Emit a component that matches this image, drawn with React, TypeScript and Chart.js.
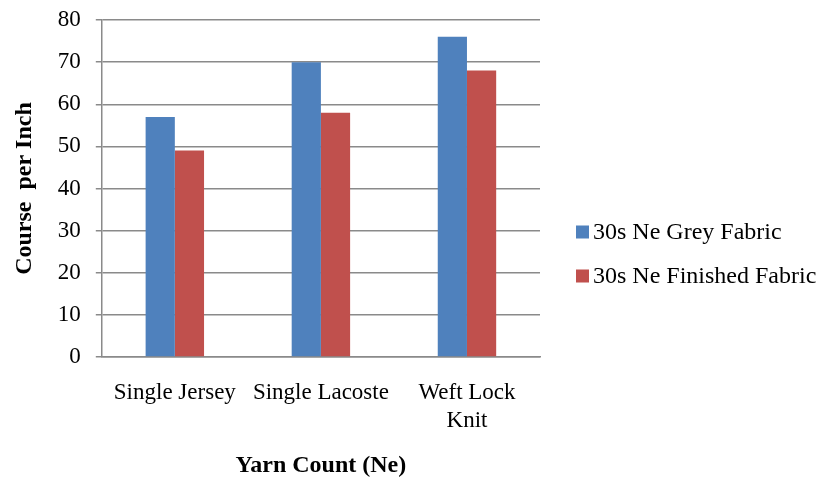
import React, { useEffect, useRef } from "react";
import { Chart, registerables } from "chart.js";

Chart.register(...registerables);

const categories: (string | string[])[] = ["Single Jersey", "Single Lacoste", ["Weft Lock", "Knit"]];
const greyValues = [57, 70, 76];
const finishedValues = [49, 58, 68];
const seriesNames = ["30s Ne Grey Fabric", "30s Ne Finished Fabric"];
const seriesColors = ["#4F81BD", "#C0504D"];
const yTicks = { min: 0, max: 80, step: 10 };

const FONT = "'Liberation Serif', 'Times New Roman', serif";

const sideLegend = {
  id: "sideLegend",
  afterDraw(chart: any) {
    const ctx = chart.ctx;
    const area = chart.chartArea;
    const x0 = area.right + 36;
    const rowGap = 44;
    const datasets = chart.data.datasets;
    const total = (datasets.length - 1) * rowGap;
    const yc = 254 - total / 2;
    ctx.save();
    ctx.font = `24px ${FONT}`;
    ctx.textBaseline = "middle";
    ctx.textAlign = "left";
    datasets.forEach((ds: any, i: number) => {
      const y = yc + i * rowGap;
      ctx.fillStyle = ds.backgroundColor;
      ctx.fillRect(x0, y - 6.5, 13, 13);
      ctx.fillStyle = "#000";
      ctx.fillText(ds.label, x0 + 17, y + 1);
    });
    ctx.restore();
  },
};

export default function App() {
  const ref = useRef<HTMLCanvasElement | null>(null);
  useEffect(() => {
    if (!ref.current) return;
    const chart = new Chart(ref.current, {
      type: "bar",
      data: {
        labels: categories,
        datasets: [
          { label: seriesNames[0], data: greyValues, backgroundColor: seriesColors[0], borderWidth: 0 },
          { label: seriesNames[1], data: finishedValues, backgroundColor: seriesColors[1], borderWidth: 0 },
        ],
      },
      plugins: [sideLegend],
      options: {
        animation: false,
        responsive: false,
        maintainAspectRatio: false,
        layout: { padding: { left: 10, right: 283, top: 20, bottom: 0 } },
        datasets: { bar: { categoryPercentage: 0.4, barPercentage: 1 } },
        plugins: {
          tooltip: { enabled: false },
          legend: { display: false },
        },
        scales: {
          x: {
            grid: { display: false, drawTicks: true, tickLength: 12 },
            border: { display: true, color: "#8a8a8a", width: 1.5 },
            ticks: {
              color: "#000",
              font: { family: FONT, size: 23, lineHeight: 1.22 },
              padding: 10,
              maxRotation: 0,
            },
            title: {
              display: true,
              text: "Yarn Count (Ne)",
              color: "#000",
              font: { family: FONT, size: 24, weight: "bold", lineHeight: 1.2 },
              padding: { top: 6, bottom: 0 },
            },
          },
          y: {
            min: yTicks.min,
            max: yTicks.max,
            afterFit: (scale: any) => {
              scale.paddingTop = 0;
            },
            grid: { color: "#8a8a8a", lineWidth: 1.5, tickLength: 6 },
            border: { display: true, color: "#8a8a8a", width: 1.5 },
            ticks: {
              stepSize: yTicks.step,
              color: "#000",
              font: { family: FONT, size: 23, lineHeight: 1.2 },
              padding: 15,
            },
            title: {
              display: true,
              text: "Course  per Inch",
              color: "#000",
              font: { family: FONT, size: 24, weight: "bold", lineHeight: 1.2 },
              padding: { top: 0, bottom: 4 },
            },
          },
        },
      },
    });
    return () => chart.destroy();
  }, []);
  return (
    <div style={{ position: "fixed", left: 0, top: 0, width: 823, height: 480, background: "#fff" }}>
      <canvas ref={ref} width={823} height={480} style={{ width: 823, height: 480 }} />
    </div>
  );
}
